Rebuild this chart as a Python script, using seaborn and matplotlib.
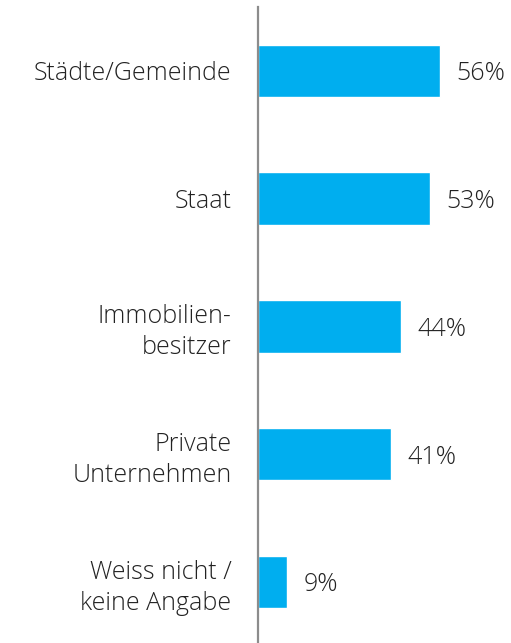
import matplotlib
matplotlib.use("Agg")
import matplotlib.pyplot as plt
import seaborn as sns
import pandas as pd

kategorien = ["Städte/Gemeinde", "Staat", "Immobilien-\nbesitzer",
              "Private\nUnternehmen", "Weiss nicht /\nkeine Angabe"]
werte = [56, 53, 44, 41, 9]

df = pd.DataFrame({"Kategorie": kategorien, "Wert": werte})

sns.set_style("white")
plt.rcParams["font.family"] = ["Open Sans", "DejaVu Sans"]

fig = plt.figure(figsize=(5.11, 6.43), dpi=100)
ax = fig.add_axes([258 / 511, 1 - 642 / 643, 1 - 258 / 511, 635 / 643])

sns.barplot(data=df, x="Wert", y="Kategorie", orient="h", color="#00AEEF",
            saturation=1, width=0.41, ax=ax)

ax.set_xlim(0, 78)
ax.set_ylim(4.47, -0.5)
ax.set_xlabel("")
ax.set_ylabel("")
ax.set_xticks([])

for s in ["top", "right", "bottom"]:
    ax.spines[s].set_visible(False)
ax.spines["left"].set_color("#8c8c8c")
ax.spines["left"].set_linewidth(1.6)

ax.tick_params(axis="y", length=0, pad=19, labelsize=18, labelcolor="#222222")
for t in ax.get_yticklabels():
    t.set_fontweight("light")
    t.set_multialignment("right")
    t.set_linespacing(1.3)

for t in ax.bar_label(ax.containers[0], labels=[f"{v}%" for v in werte], padding=12,
                      fontsize=18, color="#222222", fontweight="light"):
    t.set_va("center_baseline")

fig.savefig("out.png", dpi=100)
